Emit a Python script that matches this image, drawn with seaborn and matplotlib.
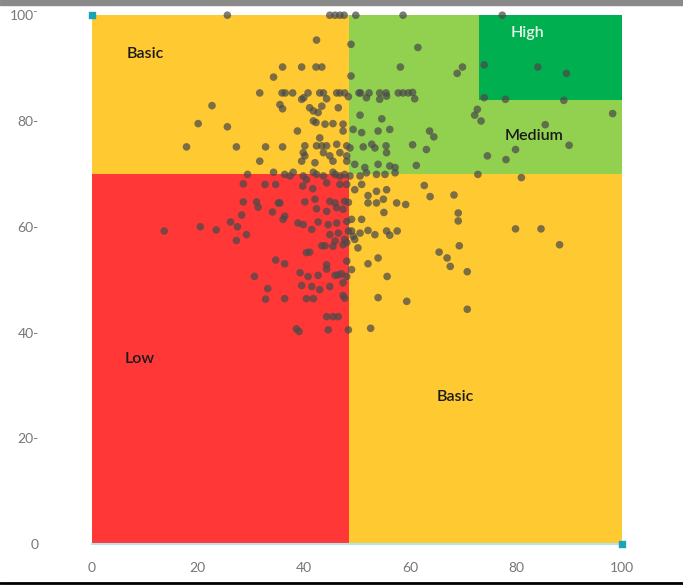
import matplotlib
matplotlib.use("Agg")
import matplotlib.pyplot as plt
import seaborn as sns
from matplotlib.patches import Rectangle
from matplotlib.lines import Line2D

# zones of the matrix (x from, x to, y from, y to)
zone_names = ["Low", "Basic", "Basic", "Medium", "High"]
zone_x0 = [0, 0, 48.5, 48.5, 73]
zone_x1 = [48.5, 48.5, 100, 100, 100]
zone_y0 = [0, 70, 0, 70, 84]
zone_y1 = [70, 100, 70, 100, 100]
zone_colors = ["#FF3737", "#FFC932", "#FFC932", "#92D050", "#00B050"]

# where each zone name is written
label_text = ["Basic", "Low", "Basic", "Medium", "High"]
label_x = [10.1, 9.1, 68.6, 83.3, 82.2]
label_y = [92.6, 35.0, 27.8, 77.1, 96.6]
label_colors = ["#1a1a1a", "#1a1a1a", "#1a1a1a", "#1a1a1a", "#E4F5E4"]

# scores
score_x = [
    25.6, 36.0, 34.3, 31.7, 35.9, 36.5, 22.7, 35.5, 36.0, 20.1, 25.6, 17.9, 27.3, 32.8, 36.0, 31.7, 29.4, 34.3,
    44.9, 45.9, 46.8, 47.6, 49.8, 58.7, 42.4, 48.9, 39.6, 42.3, 43.4, 48.9, 58.2, 61.5,
    37.9, 40.8, 43.0, 43.7, 46.2, 46.8, 47.7, 50.4, 50.7, 52.3, 54.3, 55.5, 57.8, 58.7, 59.7,
    39.6, 40.0, 44.3, 48.4, 51.8, 54.3, 55.6,
    41.1, 41.8, 43.4, 46.5, 50.6, 42.7, 54.7,
    41.8, 42.3, 44.0, 45.5, 47.4, 47.4, 38.8, 43.0, 49.3, 50.9, 54.0, 56.2,
    40.2, 42.4, 43.4, 44.3, 46.2, 48.1, 48.7, 51.2, 52.8, 53.4, 55.5,
    55.6, 39.9, 40.2, 43.7, 44.9, 46.8, 48.1,
    39.6, 42.1, 45.5, 48.1, 49.6, 51.5, 54.0, 56.2, 57.2,
    77.4, 69.9, 68.9, 74.0, 84.1, 89.5, 74.0, 78.0, 89.0, 60.5, 60.9, 72.7, 72.2, 73.4, 98.2,
    63.7, 64.5, 85.5, 60.5, 63.1, 79.9, 90.0, 74.6, 78.1, 61.2, 72.8, 81.0,
    28.6, 32.7, 34.7, 28.6, 31.1, 31.4, 35.2, 34.1, 28.3, 26.2, 27.5, 13.7, 20.5, 23.5, 29.2, 27.3,
    34.7, 30.7, 33.2, 32.8,
    36.4, 37.4, 39.9, 40.5, 42.4, 43.7, 45.9, 46.8, 47.7, 48.7, 50.6, 51.8, 53.7, 55.3, 57.2,
    38.0, 41.8, 45.5,
    39.8, 41.7, 44.3, 46.8, 48.1, 50.9, 49.6, 53.7, 55.6, 52.1,
    35.5, 40.2, 42.1, 44.9, 45.9, 47.7, 48.4, 52.1, 53.7, 55.0, 57.5, 59.2,
    42.4, 44.3, 46.2, 47.4, 55.1,
    36.1, 36.4, 38.9, 39.9, 41.5, 42.7, 44.6, 46.2, 48.1, 49.0, 50.9,
    44.9, 46.5, 48.4, 49.0, 50.6, 52.1, 53.4, 55.6, 56.2, 57.6,
    45.9, 47.7, 49.3, 49.6, 43.4, 44.0, 45.5, 47.4, 48.1, 50.2,
    40.5, 41.1, 54.0, 48.1, 36.4, 44.3, 44.3, 52.1, 49.0,
    39.3, 40.8, 42.7, 45.9, 46.5, 47.1, 48.1, 55.7,
    47.4, 39.6, 41.5, 43.0, 44.9, 47.4, 47.7, 36.4, 40.5, 41.8, 54.0, 59.4,
    44.3, 45.5, 46.5, 38.6, 39.1, 44.6, 48.4, 52.6,
    62.7, 63.8, 68.3, 69.1, 69.1, 79.9, 84.7, 88.2, 69.3, 65.5, 67.0, 67.6, 70.8, 70.8,
]
score_y = [
    100, 90.2, 88.3, 85.3, 85.3, 85.3, 82.9, 83.1, 82.3, 79.5, 78.9, 75.1, 75.1, 75.1, 75.1, 72.4, 69.9, 70.3,
    100, 100, 100, 100, 100, 100, 95.3, 94.5, 90.2, 90.2, 90.2, 88.5, 90.2, 93.9,
    85.3, 85.3, 85.3, 85.3, 85.3, 85.3, 85.3, 85.3, 85.3, 85.3, 85.3, 85.3, 85.3, 85.3, 85.3,
    84.1, 84.4, 84.2, 84.6, 84.4, 84.1, 84.7,
    82.5, 81.9, 82.8, 82.5, 81.1, 81.6, 80.4,
    80.0, 79.7, 79.4, 79.5, 79.4, 78.1, 78.1, 76.8, 78.4, 77.8, 78.1, 78.4,
    75.3, 75.3, 75.3, 75.3, 75.6, 75.3, 74.9, 75.1, 75.6, 74.9, 75.3,
    74.0, 74.0, 73.4, 74.0, 73.4, 74.0, 73.4,
    72.4, 72.1, 72.4, 72.4, 71.8, 71.2, 71.8, 71.5, 71.2,
    100, 90.2, 89.0, 90.6, 90.2, 89.0, 84.4, 84.1, 83.9, 85.4, 84.2, 82.2, 81.1, 80.0, 81.4,
    78.1, 77.0, 79.3, 75.5, 74.6, 74.6, 75.4, 73.4, 72.7, 71.6, 69.9, 69.3,
    68.1, 68.0, 68.0, 64.7, 64.7, 63.7, 64.5, 62.8, 62.2, 60.9, 60.0, 59.2, 60.0, 59.4, 58.5, 57.4,
    53.7, 50.6, 48.3, 46.3,
    69.9, 69.6, 69.6, 68.9, 69.9, 69.6, 69.9, 69.6, 69.9, 69.6, 69.6, 70.2, 69.9, 69.9, 70.2,
    70.3, 70.3, 70.3,
    67.7, 67.2, 68.3, 68.0, 68.0, 68.0, 67.0, 66.7, 67.0, 65.9,
    64.5, 64.7, 65.2, 64.8, 64.5, 64.8, 64.6, 64.5, 64.5, 65.2, 64.5, 64.2,
    63.4, 62.9, 63.6, 63.3, 62.7,
    61.4, 62.0, 60.7, 60.4, 59.5, 60.9, 60.4, 60.7, 61.0, 61.4, 61.4,
    58.5, 58.8, 59.2, 59.2, 58.8, 59.3, 58.5, 59.2, 58.4, 59.2,
    57.3, 57.6, 58.2, 57.6, 56.4, 56.4, 56.3, 56.6, 57.0, 56.0,
    55.1, 55.2, 54.1, 53.5, 53.0, 52.8, 52.0, 53.0, 51.9,
    51.3, 50.6, 50.8, 50.8, 50.9, 51.1, 50.6, 50.6,
    49.4, 48.9, 48.7, 48.1, 48.7, 47.0, 46.5, 46.4, 46.4, 46.4, 46.6, 45.9,
    43.0, 43.0, 43.0, 40.7, 40.2, 40.5, 40.5, 40.8,
    67.8, 65.7, 66.0, 62.6, 61.1, 59.6, 59.6, 56.6, 56.4, 55.2, 54.1, 52.5, 51.5, 44.4,
]

# small corner anchors drawn by the original tool
anchor_x = [0, 100]
anchor_y = [100, 0]

tick_values = [0, 20, 40, 60, 80, 100]
xtick_labels = ["0", "20", "40", "60", "80", "100"]
ytick_labels = ["0", "20-", "40-", "60-", "80-", "100\u207b"]

sns.set_style("white")
plt.rcParams["font.family"] = ["Lato", "DejaVu Sans"]

fig = plt.figure(figsize=(6.83, 5.85), dpi=100)
ax = fig.add_axes([0.134, 0.070, 0.777, 0.904])

for x0, x1, y0, y1, c in zip(zone_x0, zone_x1, zone_y0, zone_y1, zone_colors):
    ax.add_patch(Rectangle((x0, y0), x1 - x0, y1 - y0, facecolor=c, edgecolor="none", zorder=0))

for t, x, y, c in zip(label_text, label_x, label_y, label_colors):
    ax.text(x, y, t, color=c, fontsize=11.5, fontweight="semibold",
            ha="center", va="center", zorder=1)

sns.scatterplot(x=score_x, y=score_y, color="#4a4a4a", alpha=0.72, s=30,
                edgecolor="none", clip_on=False, zorder=3, ax=ax)
ax.scatter(anchor_x, anchor_y, marker="s", s=14, color="#1BA3B8", clip_on=False, zorder=4)

ax.set_xlim(0, 100)
ax.set_ylim(0, 100)
ax.set_xticks(tick_values)
ax.set_xticklabels(xtick_labels)
ax.set_yticks(tick_values)
ax.set_yticklabels(ytick_labels)
ax.tick_params(axis="x", length=5, width=0.8, color="#cccccc", pad=8,
               labelsize=10, labelcolor="#777777")
ax.tick_params(axis="y", length=0, pad=38, labelsize=10, labelcolor="#777777")

for side in ["top", "right", "left"]:
    ax.spines[side].set_visible(False)
ax.spines["bottom"].set_color("#B5E3E8")
ax.spines["bottom"].set_linewidth(1.5)

# frame pieces of the screenshot
fig.add_artist(Rectangle((0, 1 - 5 / 585), 1, 5 / 585, transform=fig.transFigure,
                         color="#8A8A8A"))
fig.add_artist(Line2D([0, 1], [1 - 583 / 585] * 2, transform=fig.transFigure,
                      color="black", linewidth=2))

plt.savefig("out.png", dpi=100)
plt.close()
